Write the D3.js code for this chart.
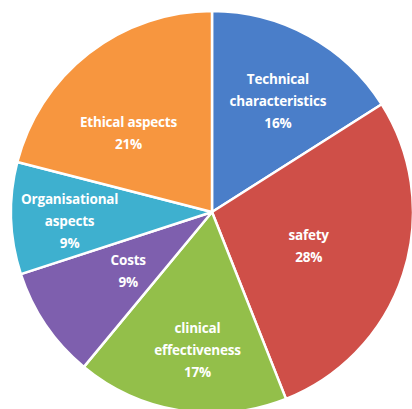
<!DOCTYPE html>
<html>
<head>
<meta charset="utf-8">
<script src="https://cdn.jsdelivr.net/npm/d3@7"></script>
<style>
  body { margin: 0; background: #fff; }
  .pie-label { font-family: "Open Sans", "DejaVu Sans", sans-serif; font-weight: bold; fill: #fff; }
</style>
</head>
<body>
<div id="chart"></div>
<script>
// data, clockwise from 12 o'clock
const categories = ["Technical characteristics", "safety", "clinical effectiveness", "Costs", "Organisational aspects", "Ethical aspects"];
const shares = [16, 28, 17, 9, 9, 21];
const labelLines = [
    ["Technical", "characteristics"],
    ["safety"],
    ["clinical", "effectiveness"],
    ["Costs"],
    ["Organisational", "aspects"],
    ["Ethical aspects"]
];
const sliceColors = ["#4a7ec9", "#cf4f48", "#93bf4a", "#7e5fae", "#3eb0cf", "#f7963f"];

// label placement (fraction of radius, angle nudge in degrees) - layout only
const labelRadius = [0.64, 0.51, 0.69, 0.51, 0.71, 0.57];
const labelNudge = [2, 1.5, -3, -1, -2, -9];

const width = 412, height = 409;
const cx = 212, cy = 212, radius = 201;

const svg = d3.select("#chart")
    .append("svg")
    .attr("width", width)
    .attr("height", height);

const g = svg.append("g")
    .attr("transform", `translate(${cx}, ${cy})`);

const data = categories.map((c, i) => ({name: c, value: shares[i], i: i}));

const pie = d3.pie()
    .sort(null)
    .value(d => d.value);

const arc = d3.arc()
    .innerRadius(0)
    .outerRadius(radius);

const arcs = pie(data);

g.selectAll("path.slice")
    .data(arcs)
    .join("path")
    .attr("class", "slice")
    .attr("d", arc)
    .style("fill", d => sliceColors[d.data.i])
    .style("stroke", "#fff")
    .style("stroke-width", 2.5)
    .style("stroke-linejoin", "round");

// labels
const lineH = 22;
const labels = g.selectAll("text.pie-label")
    .data(arcs)
    .join("text")
    .attr("class", "pie-label")
    .attr("text-anchor", "middle")
    .style("font-size", "13.5px")
    .style("letter-spacing", "-0.2px")
    .attr("transform", d => {
        const i = d.data.i;
        const a = (d.startAngle + d.endAngle) / 2 + labelNudge[i] * Math.PI / 180;
        const r = radius * labelRadius[i];
        return `translate(${r * Math.sin(a)}, ${-r * Math.cos(a)})`;
    });

labels.each(function(d) {
    const lines = labelLines[d.data.i].concat([d.data.value + "%"]);
    const t = d3.select(this);
    const y0 = -(lines.length - 1) * lineH / 2;
    lines.forEach((s, k) => {
        t.append("tspan")
            .attr("x", 0)
            .attr("y", y0 + k * lineH)
            .attr("dy", "0.35em")
            .text(s);
    });
});
</script>
</body>
</html>
